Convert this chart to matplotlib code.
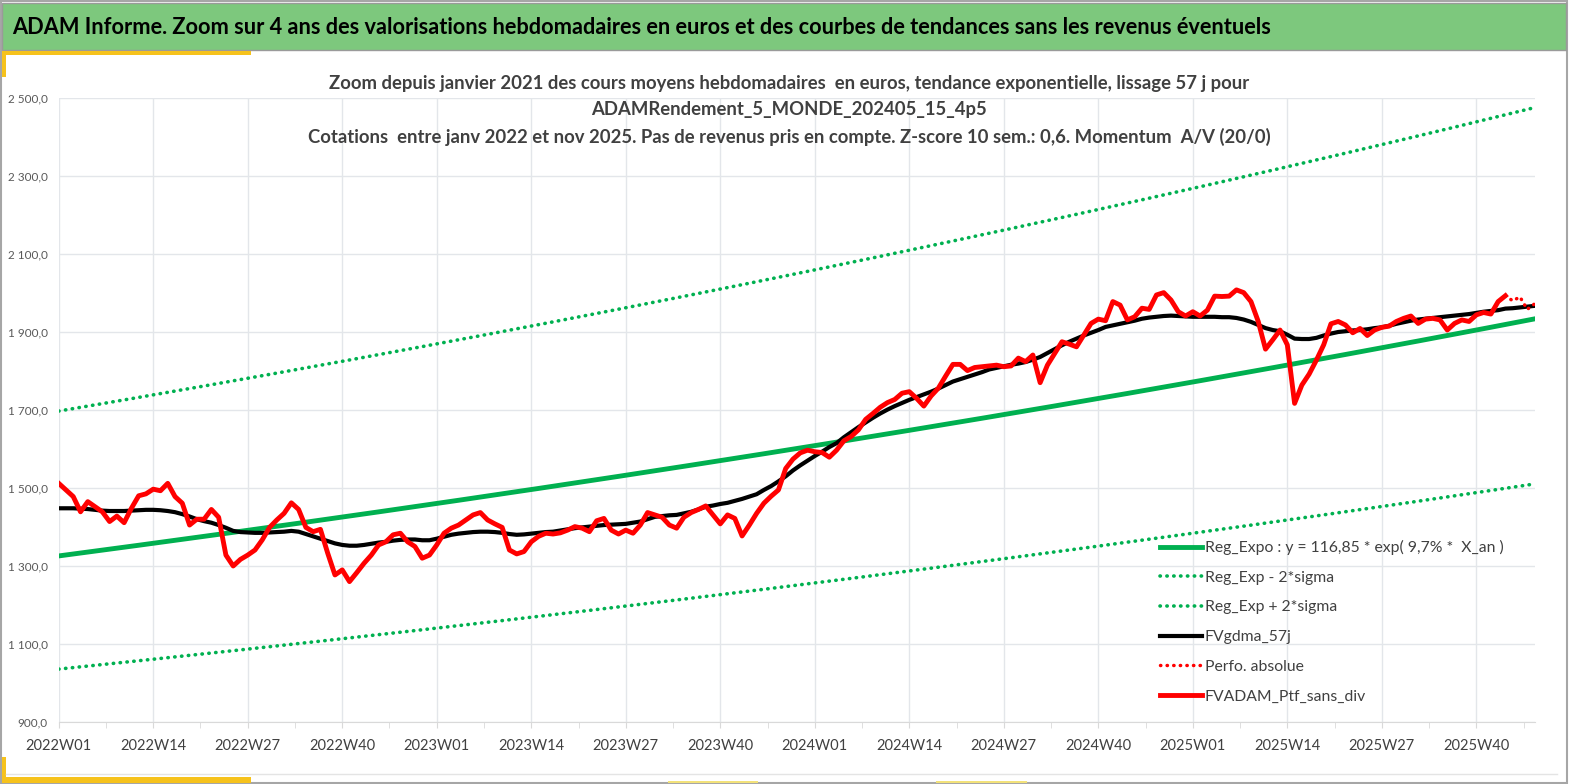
import numpy as np
import matplotlib
matplotlib.use("Agg")
import matplotlib.pyplot as plt
from matplotlib.patches import Rectangle
from matplotlib.lines import Line2D
from matplotlib.ticker import FuncFormatter

plt.rcParams['font.family'] = ['Lato', 'DejaVu Sans']

# semaines 2022W01 .. 2025W48 (index 0..203)
week_labels = ['2022W01', '2022W14', '2022W27', '2022W40',
               '2023W01', '2023W14', '2023W27', '2023W40',
               '2024W01', '2024W14', '2024W27', '2024W40',
               '2025W01', '2025W14', '2025W27', '2025W40']

# FVADAM_Ptf_sans_div, cours moyen hebdo (2022W01 .. 2025W44)
ptf = [1512, 1495, 1478, 1439, 1465, 1452, 1439, 1414, 1428, 1411,
       1448, 1480, 1485, 1497, 1493, 1512, 1478, 1461, 1405, 1420,
       1420, 1445, 1425, 1328, 1300, 1317, 1328, 1341, 1367, 1399,
       1418, 1435, 1462, 1445, 1399, 1388, 1394, 1333, 1277, 1290,
       1260, 1283, 1307, 1328, 1354, 1362, 1380, 1384, 1362, 1350,
       1320, 1328, 1354, 1384, 1397, 1405, 1418, 1431, 1437, 1418,
       1408, 1399, 1341, 1331, 1337, 1362, 1376, 1384, 1382, 1385,
       1392, 1401, 1397, 1388, 1416, 1422, 1392, 1382, 1392, 1384,
       1405, 1437, 1431, 1425, 1405, 1397, 1425, 1437, 1445, 1454,
       1431, 1408, 1431, 1422, 1377, 1405, 1435, 1461, 1479, 1495,
       1550, 1574, 1590, 1597, 1593, 1591, 1579, 1597, 1621, 1632,
       1649, 1676, 1691, 1707, 1719, 1727, 1743, 1747, 1730, 1710,
       1736, 1756, 1787, 1817, 1817, 1801, 1809, 1811, 1813, 1815,
       1811, 1813, 1833, 1824, 1841, 1770, 1815, 1845, 1875, 1869,
       1862, 1892, 1922, 1933, 1929, 1978, 1969, 1931, 1939, 1961,
       1958, 1995, 2001, 1982, 1952, 1941, 1952, 1941, 1956, 1992,
       1991, 1992, 2008, 2001, 1978, 1927, 1856, 1880, 1905, 1867,
       1717, 1764, 1792, 1828, 1867, 1921, 1927, 1918, 1898, 1909,
       1891, 1905, 1912, 1915, 1927, 1935, 1941, 1922, 1933, 1935,
       1931, 1905, 1922, 1931, 1927, 1944, 1950, 1946, 1978, 1993]

# Perfo. absolue (fin de serie, pointilles), semaines 199..203
perfo_start = 199
perfo = [1993, 1980, 1990, 1958, 1972]

# FVgdma_57j (moyenne mobile)
gdma = [1448, 1448, 1448, 1447, 1446, 1444, 1442, 1441, 1441, 1441,
        1442, 1443, 1444, 1444, 1443, 1441, 1438, 1433, 1427, 1420,
        1415, 1411, 1405, 1398, 1390, 1387, 1386, 1385, 1385, 1386,
        1387, 1388, 1390, 1388, 1382, 1376, 1370, 1364, 1358, 1354,
        1352, 1352, 1354, 1357, 1360, 1362, 1365, 1367, 1368, 1368,
        1366, 1366, 1370, 1375, 1380, 1383, 1385, 1387, 1388, 1388,
        1387, 1385, 1382, 1380, 1381, 1383, 1385, 1387, 1388, 1391,
        1394, 1397, 1399, 1401, 1403, 1405, 1406, 1407, 1408, 1411,
        1414, 1420, 1426, 1428, 1430, 1431, 1435, 1439, 1445, 1452,
        1455, 1459, 1462, 1467, 1472, 1478, 1484, 1495, 1505, 1517,
        1530, 1545, 1558, 1570, 1582, 1593, 1605, 1615, 1630, 1643,
        1656, 1668, 1680, 1691, 1701, 1710, 1718, 1726, 1733, 1740,
        1747, 1755, 1764, 1773, 1779, 1785, 1791, 1797, 1804, 1808,
        1812, 1816, 1819, 1823, 1829, 1836, 1846, 1856, 1866, 1875,
        1883, 1891, 1898, 1905, 1913, 1917, 1921, 1925, 1929, 1934,
        1937, 1939, 1941, 1942, 1941, 1940, 1939, 1939, 1939, 1939,
        1938, 1938, 1936, 1932, 1926, 1918, 1910, 1905, 1902, 1893,
        1883, 1882, 1882, 1885, 1891, 1896, 1900, 1902, 1904, 1905,
        1907, 1910, 1912, 1916, 1921, 1925, 1929, 1932, 1934, 1936,
        1938, 1940, 1942, 1944, 1946, 1949, 1952, 1954, 1956, 1960,
        1961, 1963, 1965, 1967]

y_ticks = [900, 1100, 1300, 1500, 1700, 1900, 2100, 2300, 2500]

# parametres de la regression exponentielle (legende)
reg_a = 116.85
reg_taux = 0.097
x_an0 = 25.04       # X_an en 2022W01
deux_sigma = 0.247  # 2*sigma en log

weeks = np.arange(len(gdma))
x_an = x_an0 + weeks / 52.18
reg = reg_a * np.exp(reg_taux * x_an)
reg_lo = reg * np.exp(-deux_sigma)
reg_hi = reg * np.exp(deux_sigma)

fig = plt.figure(figsize=(15.69, 7.84), dpi=100)
W, H = 1569, 784

def fx(px):
    return px / W

def fy(py):
    return 1 - py / H

def rect(x0, y0, x1, y1, **kw):
    # rectangle en pixels (haut-gauche / bas-droit)
    fig.patches.append(Rectangle((fx(x0), fy(y1)), fx(x1 - x0), (y1 - y0) / H,
                                 transform=fig.transFigure, **kw))

# cadre, bandeau vert et petits traits jaunes
rect(1, 1, 1567, 783, fill=False, edgecolor='#A6A6A6', lw=1.5)
rect(2, 3, 1566, 50, facecolor='#7DC87D', edgecolor='#9A9A9A', lw=1)
rect(2, 51, 251, 55, facecolor='#F6C21C', edgecolor='none')
rect(2, 51, 6, 77, facecolor='#F6C21C', edgecolor='none')
rect(2, 777, 251, 783, facecolor='#F6C21C', edgecolor='none')
rect(2, 757, 6, 783, facecolor='#F6C21C', edgecolor='none')
rect(668, 781, 758, 783, facecolor='#F3E27A', edgecolor='none')
rect(936, 781, 1027, 783, facecolor='#F3E27A', edgecolor='none')
fig.lines.append(Line2D([fx(6), fx(1557)], [fy(774), fy(774)], transform=fig.transFigure,
                        color='#E4E4E4', lw=1))

fig.text(fx(12), fy(27), "ADAM Informe. Zoom sur 4 ans des valorisations hebdomadaires en euros "
         "et des courbes de tendances sans les revenus éventuels",
         fontsize=15.7, fontweight='bold', color='black', va='center', ha='left')

ax = fig.add_axes([fx(58.7), fy(722), fx(1534.5 - 58.7), (722 - 98) / H])

dot = (0, (0.1, 1.8))
ax.plot(weeks, reg_lo, color='#00B050', lw=2.6, ls=dot, dash_capstyle='round')
ax.plot(weeks, reg_hi, color='#00B050', lw=2.6, ls=dot, dash_capstyle='round')
ax.plot(weeks, reg, color='#00B050', lw=3.5)
ax.plot(weeks, gdma, color='black', lw=3)
ax.plot(np.arange(perfo_start, perfo_start + len(perfo)), perfo, color='#FF0000', lw=2.5,
        ls=dot, dash_capstyle='round')
ax.plot(np.arange(len(ptf)), ptf, color='#FF0000', lw=3.5)

ax.set_xlim(0, len(gdma) - 1)
ax.set_ylim(900, 2500)
ax.set_yticks(y_ticks)
ax.yaxis.set_major_formatter(FuncFormatter(
    lambda v, p: f"{v:,.1f}".replace(',', ' ').replace('.', ',')))
ax.set_xticks(np.arange(0, 13 * len(week_labels), 13))
ax.set_xticklabels(week_labels)
ax.set_xticks(np.arange(6.5, len(gdma), 13), minor=True)
ax.xaxis.grid(True, which='major', color='#E3E6EA', lw=1)
ax.xaxis.grid(False, which='minor')
ax.yaxis.grid(True, which='major', color='#E3E6EA', lw=1)
for s in ['top', 'right', 'left']:
    ax.spines[s].set_visible(False)
ax.spines['bottom'].set_color('#D9D9D9')
ax.tick_params(axis='y', length=0, labelsize=8.5, labelcolor='#595959', pad=8)
ax.tick_params(axis='x', which='both', length=4, color='#D9D9D9')
ax.tick_params(axis='x', which='major', labelsize=10.5, labelcolor='#404040', pad=8)

titre = ["Zoom depuis janvier 2021 des cours moyens hebdomadaires  en euros, tendance exponentielle, lissage 57 j pour",
         "ADAMRendement_5_MONDE_202405_15_4p5",
         "Cotations  entre janv 2022 et nov 2025. Pas de revenus pris en compte. Z-score 10 sem.: 0,6. Momentum  A/V (20/0)"]
for ligne, py in zip(titre, [84, 110, 137]):
    fig.text(fx(789), fy(py), ligne, fontsize=13.3, fontweight='bold', color='#404040',
             ha='center', va='center')

handles = [Line2D([], [], color='#00B050', lw=3.5),
           Line2D([], [], color='#00B050', lw=2.6, ls=dot, dash_capstyle='round'),
           Line2D([], [], color='#00B050', lw=2.6, ls=dot, dash_capstyle='round'),
           Line2D([], [], color='black', lw=3),
           Line2D([], [], color='#FF0000', lw=2.5, ls=dot, dash_capstyle='round'),
           Line2D([], [], color='#FF0000', lw=3.5)]
labels = ["Reg_Expo : y = 116,85 * exp( 9,7% *  X_an )", "Reg_Exp - 2*sigma",
          "Reg_Exp + 2*sigma", "FVgdma_57j", "Perfo. absolue", "FVADAM_Ptf_sans_div"]
leg = fig.legend(handles, labels, loc='upper left', bbox_to_anchor=(fx(1160), fy(540)),
                 frameon=False, fontsize=11.3, handlelength=2.7, handletextpad=0.15,
                 labelspacing=1.0, borderpad=0, borderaxespad=0)
for t in leg.get_texts():
    t.set_color('#404040')

fig.savefig('out.png', dpi=100)
